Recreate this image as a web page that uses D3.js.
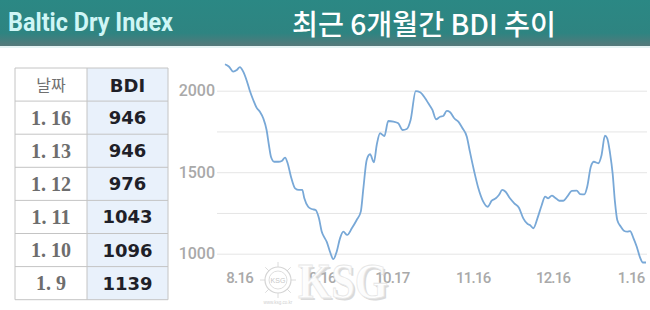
<!DOCTYPE html>
<html><head><meta charset="utf-8">
<script src="https://cdn.jsdelivr.net/npm/d3@7"></script>
<style>html,body{margin:0;padding:0;background:#fff;overflow:hidden}</style>
</head><body>
<svg id="c" width="650" height="310"></svg>
<script>
// ---- data ----
const headerLeft = "Baltic Dry Index";
const headerTitle = "최근 6개월간 BDI 추이";
const tableHead = ["날짜", "BDI"];
const tableDates = ["1. 16", "1. 13", "1. 12", "1. 11", "1. 10", "1. 9"];
const tableValues = [946, 946, 976, 1043, 1096, 1139];
// days counted from the first point of the line (about 8.10)
const dayOffsets = [0,1.6,3.2,4.6,5.8,7.1,8.5,9.7,11.0,12.3,13.6,14.9,16.2,17.1,17.9,19.2,20.8,22.1,23.4,24.4,25.7,27.3,28.8,30.1,30.9,32.4,33.8,35.3,36.6,37.7,38.7,39.6,40.9,42.2,43.5,44.8,46.1,47.6,49.4,51.3,52.9,53.9,55.2,56.5,58.0,59.1,60.4,62.1,63.6,65.6,67.5,69.2,70.8,72.3,74.3,76.0,77.9,79.2,80.8,82.2,83.8,85.0,86.4,87.7,89.3,90.9,92.4,94.2,95.4,97.1,98.7,100.6,102.3,103.9,105.5,106.7,108.0,109.3,111.0,112.7,114.5,116.2,117.9,118.8,120.1,121.7,123.4,124.7,125.9,127.3,128.6,130.2,131.8,133.3,135.1,137.0,138.3,140.0,141.1,142.5,143.7,145.4,146.7,148.0,148.9,150.0,151.0,151.9,152.8,154.2,155.4,156.7,157.8,159.1,160.4,161.7,162.8,164.0];
const bdiSeries = [2162,2147,2117,2127,2145,2117,2060,1998,1943,1896,1871,1831,1759,1667,1595,1564,1564,1569,1589,1555,1472,1401,1391,1391,1340,1288,1274,1268,1217,1135,1100,1074,1012,967,1012,1094,1135,1115,1156,1207,1258,1401,1575,1610,1561,1667,1739,1722,1814,1810,1800,1759,1765,1820,1998,1990,1955,1923,1882,1825,1840,1845,1876,1868,1831,1810,1773,1718,1626,1503,1401,1319,1288,1325,1340,1360,1391,1380,1340,1309,1282,1217,1182,1176,1156,1217,1299,1350,1340,1356,1344,1325,1325,1350,1385,1387,1366,1364,1411,1534,1564,1555,1606,1724,1708,1616,1493,1319,1207,1166,1141,1135,1139,1096,1043,976,946,946];
const yTickValues = [1000, 1500, 2000];
const gridValues = [1000, 1250, 1500, 1750, 2000];
const xTickLabels = ["8.16", "9.16", "10.17", "11.16", "12.16", "1.16"];
const xTickDays = [5.5, 37.8, 65, 96.5, 127.6, 158];

// ---- drawing ----
const svg = d3.select("#c");
const defs = svg.append("defs");
const g1 = defs.append("linearGradient").attr("id","hdr").attr("x1",0).attr("y1",0).attr("x2",0).attr("y2",1);
g1.append("stop").attr("offset","0").attr("stop-color","#2b8884");
g1.append("stop").attr("offset","0.72").attr("stop-color","#2e8481");
g1.append("stop").attr("offset","1").attr("stop-color","#56797b");

// header
svg.append("rect").attr("x",0).attr("y",0).attr("width",650).attr("height",46).attr("fill","url(#hdr)");
svg.append("rect").attr("x",0).attr("y",46).attr("width",650).attr("height",2).attr("fill","#e6f4f4");
svg.append("text").attr("x",8).attr("y",31).text(headerLeft)
  .attr("font-family","Roboto, 'Noto Sans', sans-serif").attr("font-weight",700)
  .attr("font-size",25).attr("fill","#cff6f6").attr("textLength",165).attr("lengthAdjust","spacingAndGlyphs");
svg.append("text").attr("x",424).attr("y",35).attr("text-anchor","middle").text(headerTitle)
  .attr("font-family","'Noto Sans CJK KR', sans-serif").attr("font-weight",500)
  .attr("font-size",28).attr("fill","#ffffff").attr("textLength",264).attr("lengthAdjust","spacingAndGlyphs");

// table
const tx0 = 15, tx1 = 87, tx2 = 168, ty0 = 68, rowH = 33.1;
const tbl = svg.append("g");
const nRows = tableDates.length + 1;
tbl.append("rect").attr("x",tx1).attr("y",ty0).attr("width",tx2-tx1).attr("height",rowH*nRows).attr("fill","#e9f1fb");
for (let i = 0; i <= nRows; i++) {
  tbl.append("line").attr("x1",tx0).attr("x2",tx2).attr("y1",ty0+i*rowH).attr("y2",ty0+i*rowH)
    .attr("stroke","#c4c4c4").attr("stroke-width",1);
}
[tx0, tx1, tx2].forEach(x => tbl.append("line").attr("x1",x).attr("x2",x).attr("y1",ty0).attr("y2",ty0+rowH*nRows)
  .attr("stroke","#c4c4c4").attr("stroke-width",1));
tbl.append("text").attr("x",(tx0+tx1)/2).attr("y",ty0+rowH/2+6).attr("text-anchor","middle").text(tableHead[0])
  .attr("font-family","'Noto Sans CJK KR', sans-serif").attr("font-size",16).attr("fill","#707070");
tbl.append("text").attr("x",(tx1+tx2)/2).attr("y",ty0+rowH/2+7).attr("text-anchor","middle").text(tableHead[1])
  .attr("font-family","'DejaVu Sans', sans-serif").attr("font-weight",700).attr("font-size",18).attr("fill","#1f1f28");
tableDates.forEach((d,i) => {
  const cy = ty0 + rowH*(i+1) + rowH/2;
  tbl.append("text").attr("x",(tx0+tx1)/2).attr("y",cy+7).attr("text-anchor","middle").text(d)
    .attr("font-family","'Liberation Serif', serif").attr("font-weight",700).attr("font-size",20).attr("fill","#6d6d6d");
  tbl.append("text").attr("x",(tx1+tx2)/2).attr("y",cy+6.5).attr("text-anchor","middle").text(tableValues[i])
    .attr("font-family","'DejaVu Sans', sans-serif").attr("font-weight",700).attr("font-size",18).attr("fill","#1f1f28");
});

// chart
const x = d3.scaleLinear().domain([0, 164]).range([225, 646]);
const y = d3.scaleLinear().domain([1000, 2000]).range([253.7, 90.7]);

const grid = svg.append("g").attr("transform","translate(217,0)")
  .call(d3.axisRight(y).tickValues(gridValues).tickSize(430).tickFormat(""));
grid.select(".domain").remove();
grid.selectAll("line").attr("stroke","#e5e5e5").attr("stroke-width",1);

const yAx = svg.append("g").attr("transform","translate(215,0)")
  .call(d3.axisLeft(y).tickValues(yTickValues).tickSize(0).tickPadding(0).tickFormat(d3.format("d")));
yAx.select(".domain").remove();
yAx.selectAll("text").attr("font-family","Roboto, sans-serif").attr("font-weight",500).attr("font-size",16).attr("fill","#a9a9a9");

const xAx = svg.append("g").attr("transform","translate(0,272)")
  .call(d3.axisBottom(x).tickValues(xTickDays).tickSize(0).tickPadding(0).tickFormat((d,i) => xTickLabels[i]));
xAx.select(".domain").remove();
xAx.selectAll("text").attr("font-family","Roboto, sans-serif").attr("font-weight",500).attr("font-size",15)
  .attr("fill","#a9a9a9").attr("letter-spacing","-0.8");

const pts = dayOffsets.map((d,i) => [d, bdiSeries[i]]);
svg.append("path").datum(pts)
  .attr("d", d3.line().x(d => x(d[0])).y(d => y(d[1])).curve(d3.curveMonotoneX))
  .attr("fill","none").attr("stroke","#78a8d7").attr("stroke-width",1.8).attr("stroke-linejoin","round");

// watermark
const wm = svg.append("g");
const cx = 278, cyw = 280;
for (let k = 0; k < 8; k++) {
  const a = k*Math.PI/4;
  wm.append("line").attr("x1",cx+Math.cos(a)*11).attr("y1",cyw+Math.sin(a)*11)
    .attr("x2",cx+Math.cos(a)*19).attr("y2",cyw+Math.sin(a)*19)
    .attr("stroke","#ffffff").attr("stroke-width",4).attr("stroke-linecap","round");
  wm.append("line").attr("x1",cx+Math.cos(a)*11).attr("y1",cyw+Math.sin(a)*11)
    .attr("x2",cx+Math.cos(a)*18).attr("y2",cyw+Math.sin(a)*18)
    .attr("stroke","#dcdcdc").attr("stroke-width",1);
}
wm.append("circle").attr("cx",cx).attr("cy",cyw).attr("r",13).attr("fill","#fff").attr("stroke","#d5d5d5").attr("stroke-width",1.2);
wm.append("circle").attr("cx",cx).attr("cy",cyw).attr("r",9).attr("fill","#fff").attr("stroke","#d5d5d5").attr("stroke-width",0.8);
wm.append("text").attr("x",cx).attr("y",cyw+2.5).attr("text-anchor","middle").text("KSG")
  .attr("font-family","'Liberation Sans', sans-serif").attr("font-size",7).attr("fill","#c8c8c8");
wm.append("text").attr("x",cx).attr("y",304).attr("text-anchor","middle").text("www.ksg.co.kr")
  .attr("font-family","'Liberation Sans', sans-serif").attr("font-size",4.5).attr("fill","#d0d0d0");
wm.append("text").attr("x",300).attr("y",300).text("KSG")
  .attr("font-family","'Liberation Serif', serif").attr("font-weight",700).attr("font-size",50)
  .attr("textLength",90).attr("lengthAdjust","spacingAndGlyphs")
  .attr("fill","#bdbdbd").attr("opacity",0.55);
wm.append("text").attr("x",298).attr("y",298).text("KSG")
  .attr("font-family","'Liberation Serif', serif").attr("font-weight",700).attr("font-size",50)
  .attr("textLength",90).attr("lengthAdjust","spacingAndGlyphs")
  .attr("fill","#ffffff").attr("fill-opacity",0.95).attr("stroke","#e6e6e6").attr("stroke-width",0.8);
</script>
</body></html>
